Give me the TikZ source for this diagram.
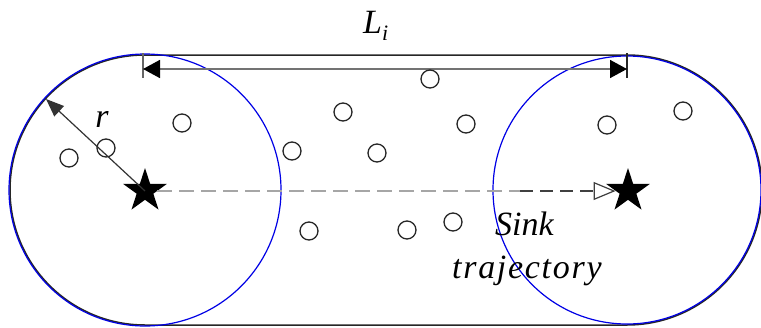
\documentclass[tikz,border=0pt]{standalone}
\usepackage{fontspec}
\setmainfont{Liberation Serif}
\usetikzlibrary{shapes.geometric,arrows.meta}
\begin{document}
\begin{tikzpicture}[x=1pt,y=-1pt,
  sensor/.style={circle,draw=black!85,line width=1.3pt,minimum size=18pt,inner sep=0pt},
  sinkstar/.style={star,star points=5,star point ratio=2.62,fill=black,minimum size=46pt,inner sep=0pt},
  rangecirc/.style={draw=blue!90!black,line width=1.2pt},
  lbl/.style={font=\fontsize{34}{36}\selectfont\itshape,inner sep=0pt}]
\useasboundingbox (0,0) rectangle (761,327);
% stadium outline
\coordinate (c1) at (145,190);
\coordinate (c2) at (627,190);
\draw[black!85,line width=1.5pt] (145,55) -- (627,55) arc[start angle=-90,end angle=90,radius=135] -- (145,325) arc[start angle=90,end angle=270,radius=135] -- cycle;
% range circles
\draw[rangecirc] (c1) circle[radius=136];
\draw[rangecirc] (c2) circle[radius=134];
% dimension
\coordinate (d1) at (143,69);
\coordinate (d2) at (627,69);
\coordinate (t1a) at (143,53); \coordinate (t1b) at (143,78);
\coordinate (t2a) at (627,53); \coordinate (t2b) at (627,78);
\draw[black!60,line width=1.4pt] (t1a) -- (t1b);
\draw[black!85,line width=1.4pt] (t2a) -- (t2b);
\draw[black!55,line width=1.6pt,{Triangle[length=17pt,width=18pt,black]}-{Triangle[length=17pt,width=18pt,black]}] (d1) -- (d2);
\node[lbl,anchor=base west] (L) at (363,33) {L\raisebox{-7pt}{\fontsize{22}{22}\selectfont i}};
% sensors
\node[sensor] (n1) at (69,158) {};
\node[sensor] (n2) at (106,148) {};
\node[sensor] (n3) at (182,123) {};
\node[sensor] (n4) at (292,151) {};
\node[sensor] (n5) at (343,112) {};
\node[sensor] (n6) at (377,153) {};
\node[sensor] (n7) at (430,79) {};
\node[sensor] (n8) at (466,124) {};
\node[sensor] (n9) at (309,231) {};
\node[sensor] (n10) at (407,230) {};
\node[sensor] (n11) at (453,222) {};
\node[sensor] (n12) at (607,125) {};
\node[sensor] (n13) at (683,111) {};
% sinks
\node[sinkstar] (s1) at (145,191) {};
\node[sinkstar] (s2) at (628,191) {};
% radius
\coordinate (rtip) at (46,99);
\draw[black!80,line width=1.2pt,-{Triangle[length=18pt,width=14pt]}] (s1.center) -- (rtip);
\node[lbl] (r) at (102,119) {r};
% trajectory
\coordinate (m) at (520,191);
\draw[black!35,line width=2.4pt,dash pattern=on 15pt off 7pt] (s1.east) -- (m);
\draw[black!75,line width=2.2pt,dash pattern=on 13pt off 7pt,-{Triangle[open,length=22pt,width=18pt,line width=1.2pt]}] (m) -- (s2.west);
\node[lbl,anchor=base west] (sink) at (495,235) {Sink};
\node[lbl,anchor=base west] (traj) at (452,278) {\addfontfeatures{LetterSpace=5}trajectory};
\end{tikzpicture}
\end{document}
